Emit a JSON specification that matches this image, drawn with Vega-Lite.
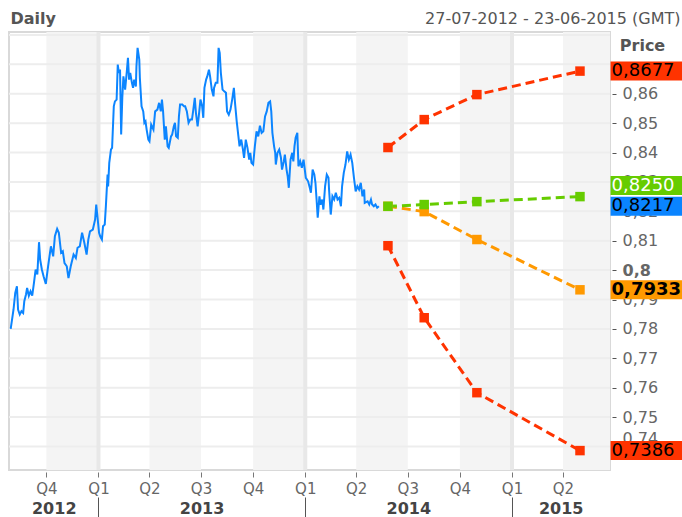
{
  "$schema": "https://vega.github.io/schema/vega-lite/v6.json",
  "width": 601,
  "height": 438,
  "autosize": {"type": "none"},
  "padding": {"left": 9, "top": 32, "right": 72, "bottom": 47},
  "background": "white",
  "config": {"font": "DejaVu Sans", "view": {"stroke": "#d9d9d9", "strokeWidth": 2}},
  "datasets": {
    "quarters": [
      {"start": "2012-10-01", "end": "2013-01-01"},
      {"start": "2013-04-01", "end": "2013-07-01"},
      {"start": "2013-10-01", "end": "2014-01-01"},
      {"start": "2014-04-01", "end": "2014-07-01"},
      {"start": "2014-10-01", "end": "2015-01-01"},
      {"start": "2015-04-01", "end": "2015-06-23"}
    ],
    "grid": [{"v":0.74},{"v":0.75},{"v":0.76},{"v":0.77},{"v":0.78},{"v":0.79},{"v":0.80},{"v":0.81},{"v":0.82},{"v":0.83},{"v":0.84},{"v":0.85},{"v":0.86},{"v":0.87},{"v":0.88}],
    "years": [{"d": "2013-01-01"}, {"d": "2014-01-01"}, {"d": "2015-01-01"}],
    "price": [
      {"date":"2012-07-30","price":0.7800},{"date":"2012-08-04","price":0.7866},{"date":"2012-08-07","price":0.7922},{"date":"2012-08-10","price":0.7945},
      {"date":"2012-08-12","price":0.7866},{"date":"2012-08-15","price":0.7849},{"date":"2012-08-18","price":0.7860},{"date":"2012-08-21","price":0.7854},
      {"date":"2012-08-23","price":0.7894},{"date":"2012-08-26","price":0.7917},{"date":"2012-08-28","price":0.7939},{"date":"2012-08-31","price":0.7913},
      {"date":"2012-09-03","price":0.7928},{"date":"2012-09-06","price":0.7913},{"date":"2012-09-09","price":0.7956},{"date":"2012-09-12","price":0.8002},
      {"date":"2012-09-15","price":0.7985},{"date":"2012-09-18","price":0.8095},{"date":"2012-09-20","price":0.8036},{"date":"2012-09-23","price":0.8002},
      {"date":"2012-09-26","price":0.7979},{"date":"2012-09-30","price":0.7953},{"date":"2012-10-04","price":0.8013},{"date":"2012-10-09","price":0.8081},
      {"date":"2012-10-13","price":0.8047},{"date":"2012-10-16","price":0.8115},{"date":"2012-10-20","price":0.8140},{"date":"2012-10-23","price":0.8127},
      {"date":"2012-10-27","price":0.8059},{"date":"2012-10-30","price":0.8064},{"date":"2012-11-02","price":0.8024},{"date":"2012-11-06","price":0.8013},
      {"date":"2012-11-09","price":0.7973},{"date":"2012-11-13","price":0.8013},{"date":"2012-11-18","price":0.8053},{"date":"2012-11-22","price":0.8041},
      {"date":"2012-11-25","price":0.8076},{"date":"2012-11-29","price":0.8081},{"date":"2012-12-03","price":0.8127},{"date":"2012-12-07","price":0.8093},
      {"date":"2012-12-11","price":0.8053},{"date":"2012-12-14","price":0.8104},{"date":"2012-12-17","price":0.8132},{"date":"2012-12-22","price":0.8138},
      {"date":"2012-12-26","price":0.8172},{"date":"2012-12-28","price":0.8223},{"date":"2013-01-02","price":0.8127},{"date":"2013-01-04","price":0.8115},
      {"date":"2013-01-07","price":0.8104},{"date":"2013-01-09","price":0.8149},{"date":"2013-01-12","price":0.8155},{"date":"2013-01-14","price":0.8217},
      {"date":"2013-01-17","price":0.8325},{"date":"2013-01-18","price":0.8285},{"date":"2013-01-20","price":0.8365},{"date":"2013-01-23","price":0.8410},
      {"date":"2013-01-25","price":0.8416},{"date":"2013-01-28","price":0.8557},{"date":"2013-01-30","price":0.8574},{"date":"2013-02-02","price":0.8580},
      {"date":"2013-02-04","price":0.8699},{"date":"2013-02-06","price":0.8671},{"date":"2013-02-08","price":0.8682},{"date":"2013-02-10","price":0.8461},
      {"date":"2013-02-12","price":0.8586},{"date":"2013-02-14","price":0.8659},{"date":"2013-02-17","price":0.8614},{"date":"2013-02-20","price":0.8676},
      {"date":"2013-02-22","price":0.8722},{"date":"2013-02-24","price":0.8648},{"date":"2013-02-26","price":0.8671},{"date":"2013-03-01","price":0.8637},
      {"date":"2013-03-03","price":0.8620},{"date":"2013-03-05","price":0.8648},{"date":"2013-03-08","price":0.8625},{"date":"2013-03-09","price":0.8693},
      {"date":"2013-03-11","price":0.8756},{"date":"2013-03-14","price":0.8716},{"date":"2013-03-15","price":0.8654},{"date":"2013-03-18","price":0.8557},
      {"date":"2013-03-21","price":0.8540},{"date":"2013-03-23","price":0.8501},{"date":"2013-03-25","price":0.8506},{"date":"2013-03-27","price":0.8478},
      {"date":"2013-03-30","price":0.8444},{"date":"2013-04-01","price":0.8438},{"date":"2013-04-04","price":0.8495},{"date":"2013-04-08","price":0.8478},
      {"date":"2013-04-11","price":0.8540},{"date":"2013-04-15","price":0.8546},{"date":"2013-04-18","price":0.8569},{"date":"2013-04-21","price":0.8540},
      {"date":"2013-04-23","price":0.8580},{"date":"2013-04-25","price":0.8540},{"date":"2013-04-28","price":0.8444},{"date":"2013-04-30","price":0.8489},
      {"date":"2013-05-03","price":0.8421},{"date":"2013-05-05","price":0.8416},{"date":"2013-05-09","price":0.8455},{"date":"2013-05-11","price":0.8461},
      {"date":"2013-05-14","price":0.8489},{"date":"2013-05-16","price":0.8501},{"date":"2013-05-18","price":0.8455},{"date":"2013-05-21","price":0.8450},
      {"date":"2013-05-23","price":0.8523},{"date":"2013-05-25","price":0.8563},{"date":"2013-05-29","price":0.8563},{"date":"2013-06-01","price":0.8557},
      {"date":"2013-06-03","price":0.8557},{"date":"2013-06-06","price":0.8540},{"date":"2013-06-09","price":0.8501},{"date":"2013-06-12","price":0.8512},
      {"date":"2013-06-15","price":0.8512},{"date":"2013-06-17","price":0.8540},{"date":"2013-06-20","price":0.8586},{"date":"2013-06-22","price":0.8535},
      {"date":"2013-06-25","price":0.8489},{"date":"2013-06-27","price":0.8523},{"date":"2013-06-30","price":0.8580},{"date":"2013-07-03","price":0.8557},
      {"date":"2013-07-05","price":0.8518},{"date":"2013-07-07","price":0.8620},{"date":"2013-07-10","price":0.8648},{"date":"2013-07-12","price":0.8659},
      {"date":"2013-07-15","price":0.8682},{"date":"2013-07-17","price":0.8659},{"date":"2013-07-20","price":0.8614},{"date":"2013-07-23","price":0.8591},
      {"date":"2013-07-24","price":0.8620},{"date":"2013-07-27","price":0.8637},{"date":"2013-07-30","price":0.8637},{"date":"2013-08-01","price":0.8756},
      {"date":"2013-08-03","price":0.8739},{"date":"2013-08-05","price":0.8671},{"date":"2013-08-08","price":0.8614},{"date":"2013-08-11","price":0.8608},
      {"date":"2013-08-14","price":0.8603},{"date":"2013-08-16","price":0.8540},{"date":"2013-08-19","price":0.8529},{"date":"2013-08-22","price":0.8546},
      {"date":"2013-08-25","price":0.8580},{"date":"2013-08-28","price":0.8620},{"date":"2013-08-30","price":0.8569},{"date":"2013-09-02","price":0.8506},
      {"date":"2013-09-05","price":0.8455},{"date":"2013-09-07","price":0.8421},{"date":"2013-09-10","price":0.8444},{"date":"2013-09-13","price":0.8410},
      {"date":"2013-09-15","price":0.8382},{"date":"2013-09-18","price":0.8444},{"date":"2013-09-21","price":0.8416},{"date":"2013-09-24","price":0.8376},
      {"date":"2013-09-26","price":0.8399},{"date":"2013-09-28","price":0.8365},{"date":"2013-10-01","price":0.8359},{"date":"2013-10-04","price":0.8421},
      {"date":"2013-10-07","price":0.8472},{"date":"2013-10-10","price":0.8455},{"date":"2013-10-13","price":0.8491},{"date":"2013-10-16","price":0.8467},
      {"date":"2013-10-19","price":0.8472},{"date":"2013-10-22","price":0.8523},{"date":"2013-10-25","price":0.8540},{"date":"2013-10-28","price":0.8569},
      {"date":"2013-10-31","price":0.8574},{"date":"2013-11-02","price":0.8540},{"date":"2013-11-04","price":0.8467},{"date":"2013-11-07","price":0.8421},
      {"date":"2013-11-09","price":0.8399},{"date":"2013-11-10","price":0.8359},{"date":"2013-11-13","price":0.8399},{"date":"2013-11-16","price":0.8410},
      {"date":"2013-11-19","price":0.8383},{"date":"2013-11-21","price":0.8342},{"date":"2013-11-24","price":0.8369},{"date":"2013-11-26","price":0.8393},
      {"date":"2013-11-29","price":0.8342},{"date":"2013-12-01","price":0.8319},{"date":"2013-12-03","price":0.8280},{"date":"2013-12-06","price":0.8376},
      {"date":"2013-12-09","price":0.8399},{"date":"2013-12-11","price":0.8370},{"date":"2013-12-13","price":0.8421},{"date":"2013-12-15","price":0.8450},
      {"date":"2013-12-18","price":0.8467},{"date":"2013-12-20","price":0.8353},{"date":"2013-12-23","price":0.8370},{"date":"2013-12-26","price":0.8348},
      {"date":"2013-12-29","price":0.8376},{"date":"2014-01-02","price":0.8314},{"date":"2014-01-04","price":0.8308},{"date":"2014-01-06","price":0.8302},
      {"date":"2014-01-09","price":0.8280},{"date":"2014-01-11","price":0.8263},{"date":"2014-01-14","price":0.8342},{"date":"2014-01-17","price":0.8325},
      {"date":"2014-01-19","price":0.8297},{"date":"2014-01-21","price":0.8240},{"date":"2014-01-23","price":0.8178},{"date":"2014-01-26","price":0.8251},
      {"date":"2014-01-28","price":0.8223},{"date":"2014-01-31","price":0.8240},{"date":"2014-02-02","price":0.8206},{"date":"2014-02-05","price":0.8285},
      {"date":"2014-02-08","price":0.8325},{"date":"2014-02-11","price":0.8314},{"date":"2014-02-12","price":0.8274},{"date":"2014-02-15","price":0.8189},
      {"date":"2014-02-18","price":0.8251},{"date":"2014-02-21","price":0.8240},{"date":"2014-02-24","price":0.8263},{"date":"2014-02-27","price":0.8240},
      {"date":"2014-03-02","price":0.8246},{"date":"2014-03-05","price":0.8217},{"date":"2014-03-07","price":0.8285},{"date":"2014-03-10","price":0.8331},
      {"date":"2014-03-13","price":0.8359},{"date":"2014-03-16","price":0.8404},{"date":"2014-03-19","price":0.8376},{"date":"2014-03-22","price":0.8393},
      {"date":"2014-03-25","price":0.8365},{"date":"2014-03-28","price":0.8314},{"date":"2014-03-31","price":0.8268},{"date":"2014-04-03","price":0.8285},
      {"date":"2014-04-06","price":0.8274},{"date":"2014-04-09","price":0.8297},{"date":"2014-04-12","price":0.8251},{"date":"2014-04-15","price":0.8274},
      {"date":"2014-04-16","price":0.8229},{"date":"2014-04-21","price":0.8234},{"date":"2014-04-24","price":0.8223},{"date":"2014-04-27","price":0.8240},
      {"date":"2014-04-29","price":0.8223},{"date":"2014-05-02","price":0.8217},{"date":"2014-05-05","price":0.8223},{"date":"2014-05-08","price":0.8212},
      {"date":"2014-05-11","price":0.8217}
    ],
    "forecast": [
      {"series":"up","date":"2014-05-27","price":0.8417},{"series":"up","date":"2014-07-30","price":0.8512},{"series":"up","date":"2014-10-31","price":0.8597},{"series":"up","date":"2015-05-01","price":0.8677},
      {"series":"down","date":"2014-05-27","price":0.8083},{"series":"down","date":"2014-07-30","price":0.7838},{"series":"down","date":"2014-10-31","price":0.7583},{"series":"down","date":"2015-05-01","price":0.7386},
      {"series":"orange","date":"2014-05-27","price":0.8217},{"series":"orange","date":"2014-07-30","price":0.8199},{"series":"orange","date":"2014-10-31","price":0.8104},{"series":"orange","date":"2015-05-01","price":0.7933},
      {"series":"green","date":"2014-05-27","price":0.8217},{"series":"green","date":"2014-07-30","price":0.8223},{"series":"green","date":"2014-10-31","price":0.8233},{"series":"green","date":"2015-05-01","price":0.8250}
    ],
    "labels": [
      {"series":"up","label":"0,8677","value":0.8677},
      {"series":"blue","label":"0,8217","value":0.8217},
      {"series":"orange","label":"0,7933","value":0.7933},
      {"series":"down","label":"0,7386","value":0.7386},
      {"series":"green","label":"0,8250","value":0.8250}
    ]
  },
  "resolve": {"axis": {"x": "independent", "y": "independent"}},
  "layer": [
    {
      "data": {"name": "quarters"},
      "mark": {"type": "rect", "color": "#f4f4f4"},
      "encoding": {
        "x": {"field": "start", "type": "temporal",
          "scale": {"type": "utc", "domain": [{"year":2012,"month":7,"date":27,"utc":true},{"year":2015,"month":6,"date":23,"utc":true}]},
          "axis": {"orient": "bottom", "title": null, "domain": false, "grid": false, "offset": 2,
            "values": [{"year":2012,"month":10,"date":1,"utc":true},{"year":2013,"month":1,"date":1,"utc":true},{"year":2013,"month":4,"date":1,"utc":true},{"year":2013,"month":7,"date":1,"utc":true},{"year":2013,"month":10,"date":1,"utc":true},{"year":2014,"month":1,"date":1,"utc":true},{"year":2014,"month":4,"date":1,"utc":true},{"year":2014,"month":7,"date":1,"utc":true},{"year":2014,"month":10,"date":1,"utc":true},{"year":2015,"month":1,"date":1,"utc":true},{"year":2015,"month":4,"date":1,"utc":true}],
            "labelExpr": "'Q' + (floor(utcmonth(datum.value) / 3) + 1)",
            "tickSize": 5, "tickColor": "#777", "labelColor": "#666", "labelFontSize": 15, "labelPadding": 4, "labelFlush": false, "labelOverlap": false, "labelAlign": "center"}},
        "x2": {"field": "end"}
      }
    },
    {
      "data": {"name": "grid"},
      "mark": {"type": "rule", "color": "#ededed", "strokeWidth": 2},
      "encoding": {
        "y": {"field": "v", "type": "quantitative",
          "scale": {"domain": [0.732, 0.881], "nice": false, "zero": false}, "axis": null}
      }
    },
    {
      "data": {"name": "years"},
      "mark": {"type": "rule", "color": "#e8e8e8", "strokeWidth": 4},
      "encoding": {
        "x": {"field": "d", "type": "temporal",
          "scale": {"type": "utc", "domain": [{"year":2012,"month":7,"date":27,"utc":true},{"year":2015,"month":6,"date":23,"utc":true}]},
          "axis": {"orient": "bottom", "title": null, "domain": false, "grid": false, "labels": false, "offset": 27,
            "values": [{"year":2013,"month":1,"date":1,"utc":true},{"year":2014,"month":1,"date":1,"utc":true},{"year":2015,"month":1,"date":1,"utc":true}],
            "tickSize": 22, "tickColor": "#555", "tickWidth": 1}}
      }
    },
    {
      "data": {"name": "price"},
      "mark": {"type": "line", "color": "#0c85ff", "strokeWidth": 2},
      "encoding": {
        "x": {"field": "date", "type": "temporal",
          "scale": {"type": "utc", "domain": [{"year":2012,"month":7,"date":27,"utc":true},{"year":2015,"month":6,"date":23,"utc":true}]},
          "axis": {"orient": "bottom", "title": null, "domain": false, "grid": false, "ticks": false, "tickSize": 0, "offset": 27,
            "values": [{"year":2012,"month":10,"date":14,"utc":true},{"year":2013,"month":7,"date":2,"utc":true},{"year":2014,"month":7,"date":2,"utc":true},{"year":2015,"month":3,"date":28,"utc":true}],
            "labelExpr": "utcFormat(datum.value, '%Y')",
            "labelFontSize": 16, "labelFontWeight": "bold", "labelColor": "#444", "labelPadding": 3, "labelFlush": false, "labelOverlap": false, "labelAlign": "center"}},
        "y": {"field": "price", "type": "quantitative", "scale": {"domain": [0.732, 0.881], "nice": false, "zero": false},
          "axis": {"orient": "right", "offset": 2, "grid": false, "domain": false,
            "values": [0.74,0.75,0.76,0.77,0.78,0.79,0.8,0.81,0.82,0.83,0.84,0.85,0.86],
            "labelExpr": "replace(format(datum.value, '~g'), '.', ',')",
            "tickSize": 4, "tickColor": "#555", "labelPadding": 6, "labelFontSize": 16, "labelColor": "#666",
            "labelFontWeight": {"condition": {"test": "abs(datum.value - 0.8) < 0.001", "value": "bold"}, "value": "normal"},
            "labelBaseline": {"condition": {"test": "datum.value < 0.745", "value": "bottom"}, "value": "middle"},
            "labelOverlap": false, "labelFlush": false,
            "title": "Price", "titleAngle": 0, "titleX": 30, "titleY": 13, "titleAlign": "center", "titleBaseline": "middle",
            "titleFontSize": 16, "titleFontWeight": "bold", "titleColor": "#555"}}
      }
    },
    {
      "data": {"name": "forecast"},
      "mark": {"type": "line", "strokeWidth": 3, "strokeDash": [9, 5]},
      "encoding": {
        "x": {"field": "date", "type": "temporal",
          "scale": {"type": "utc", "domain": [{"year":2012,"month":7,"date":27,"utc":true},{"year":2015,"month":6,"date":23,"utc":true}]},
          "axis": {"orient": "top", "domain": false, "grid": false, "ticks": false, "labels": false,
            "title": "27-07-2012 - 23-06-2015 (GMT)", "titleX": 671, "titleY": -9, "titleAlign": "right", "titleBaseline": "alphabetic",
            "titleFontSize": 16, "titleFontWeight": "normal", "titleColor": "#555"}},
        "y": {"field": "price", "type": "quantitative", "scale": {"domain": [0.732, 0.881], "nice": false, "zero": false}, "axis": null},
        "color": {"field": "series", "type": "nominal", "legend": null,
          "scale": {"domain": ["up","down","orange","green","blue"], "range": ["#ff3300","#ff3300","#ff9900","#66cc00","#0a84ff"]}},
        "detail": {"field": "series"}
      }
    },
    {
      "data": {"name": "forecast"},
      "mark": {"type": "point", "shape": "square", "filled": true, "opacity": 1, "size": 90},
      "encoding": {
        "x": {"field": "date", "type": "temporal",
          "scale": {"type": "utc", "domain": [{"year":2012,"month":7,"date":27,"utc":true},{"year":2015,"month":6,"date":23,"utc":true}]},
          "axis": {"orient": "top", "domain": false, "grid": false, "ticks": false, "labels": false,
            "title": "Daily", "titleX": 1, "titleY": -9, "titleAlign": "left", "titleBaseline": "alphabetic",
            "titleFontSize": 16, "titleFontWeight": "bold", "titleColor": "#555"}},
        "y": {"field": "price", "type": "quantitative", "scale": {"domain": [0.732, 0.881], "nice": false, "zero": false}, "axis": null},
        "color": {"field": "series", "type": "nominal", "legend": null,
          "scale": {"domain": ["up","down","orange","green","blue"], "range": ["#ff3300","#ff3300","#ff9900","#66cc00","#0a84ff"]}}
      }
    },
    {
      "data": {"name": "labels"},
      "transform": [{"filter": "datum.series !== 'green'"}],
      "mark": {"type": "rect", "height": 19, "clip": false},
      "encoding": {
        "x": {"datum": {"year":2015,"month":6,"date":24,"utc":true}, "type": "temporal", "axis": null,
          "scale": {"type": "utc", "domain": [{"year":2012,"month":7,"date":27,"utc":true},{"year":2015,"month":6,"date":23,"utc":true}]}},
        "x2": {"datum": {"year":2015,"month":11,"date":15,"utc":true}},
        "y": {"field": "value", "type": "quantitative", "scale": {"domain": [0.732, 0.881], "nice": false, "zero": false}, "axis": null},
        "color": {"field": "series", "type": "nominal", "legend": null,
          "scale": {"domain": ["up","down","orange","green","blue"], "range": ["#ff3300","#ff3300","#ff9900","#66cc00","#0a84ff"]}}
      }
    },
    {
      "data": {"name": "labels"},
      "transform": [{"filter": "datum.series === 'green'"}],
      "mark": {"type": "rect", "height": 19, "clip": false, "yOffset": -11},
      "encoding": {
        "x": {"datum": {"year":2015,"month":6,"date":24,"utc":true}, "type": "temporal", "axis": null,
          "scale": {"type": "utc", "domain": [{"year":2012,"month":7,"date":27,"utc":true},{"year":2015,"month":6,"date":23,"utc":true}]}},
        "x2": {"datum": {"year":2015,"month":11,"date":15,"utc":true}},
        "y": {"field": "value", "type": "quantitative", "scale": {"domain": [0.732, 0.881], "nice": false, "zero": false}, "axis": null},
        "color": {"field": "series", "type": "nominal", "legend": null,
          "scale": {"domain": ["up","down","orange","green","blue"], "range": ["#ff3300","#ff3300","#ff9900","#66cc00","#0a84ff"]}}
      }
    },
    {
      "data": {"name": "labels"},
      "transform": [{"filter": "datum.series === 'up' || datum.series === 'blue' || datum.series === 'down'"}],
      "mark": {"type": "text", "align": "left", "baseline": "middle", "dx": 1, "fontSize": 18, "color": "black", "clip": false},
      "encoding": {
        "x": {"datum": {"year":2015,"month":6,"date":24,"utc":true}, "type": "temporal", "axis": null,
          "scale": {"type": "utc", "domain": [{"year":2012,"month":7,"date":27,"utc":true},{"year":2015,"month":6,"date":23,"utc":true}]}},
        "y": {"field": "value", "type": "quantitative", "scale": {"domain": [0.732, 0.881], "nice": false, "zero": false}, "axis": null},
        "text": {"field": "label"}
      }
    },
    {
      "data": {"name": "labels"},
      "transform": [{"filter": "datum.series === 'green'"}],
      "mark": {"type": "text", "align": "left", "baseline": "middle", "dx": 1, "dy": -11, "fontSize": 18, "color": "white", "clip": false},
      "encoding": {
        "x": {"datum": {"year":2015,"month":6,"date":24,"utc":true}, "type": "temporal", "axis": null,
          "scale": {"type": "utc", "domain": [{"year":2012,"month":7,"date":27,"utc":true},{"year":2015,"month":6,"date":23,"utc":true}]}},
        "y": {"field": "value", "type": "quantitative", "scale": {"domain": [0.732, 0.881], "nice": false, "zero": false}, "axis": null},
        "text": {"field": "label"}
      }
    },
    {
      "data": {"name": "labels"},
      "transform": [{"filter": "datum.series === 'orange'"}],
      "mark": {"type": "text", "align": "left", "baseline": "middle", "dx": 1, "fontSize": 18, "fontWeight": "bold", "color": "black", "clip": false},
      "encoding": {
        "x": {"datum": {"year":2015,"month":6,"date":24,"utc":true}, "type": "temporal", "axis": null,
          "scale": {"type": "utc", "domain": [{"year":2012,"month":7,"date":27,"utc":true},{"year":2015,"month":6,"date":23,"utc":true}]}},
        "y": {"field": "value", "type": "quantitative", "scale": {"domain": [0.732, 0.881], "nice": false, "zero": false}, "axis": null},
        "text": {"field": "label"}
      }
    }
  ]
}
